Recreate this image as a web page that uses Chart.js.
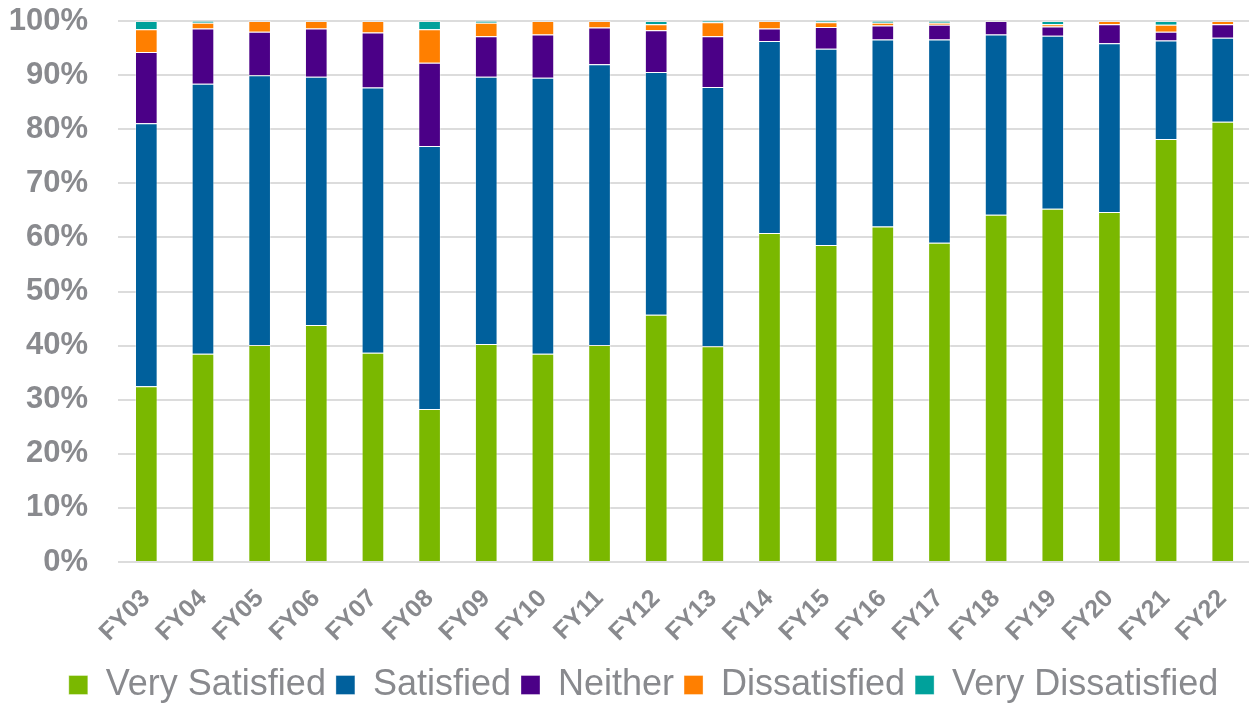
<!DOCTYPE html>
<html lang="en">
<head>
    <meta charset="UTF-8">
    <title>Satisfaction by year</title>
    <script src="https://cdn.jsdelivr.net/npm/chart.js"></script>
    <style>
        html, body {
            margin: 0;
            padding: 0;
            background: #ffffff;
            overflow: hidden;
        }
    </style>
</head>
<body>
    <canvas id="satChart" width="1258" height="710"></canvas>

    <script>
        // fiscal years on the x axis
        const years = ['FY03', 'FY04', 'FY05', 'FY06', 'FY07', 'FY08', 'FY09', 'FY10', 'FY11', 'FY12',
            'FY13', 'FY14', 'FY15', 'FY16', 'FY17', 'FY18', 'FY19', 'FY20', 'FY21', 'FY22'];

        // percentages per answer
        const verySatisfied = [32.5, 38.5, 40.1, 43.8, 38.7, 28.3, 40.3, 38.5, 40.1, 45.7,
            39.9, 60.8, 58.6, 62.0, 59.0, 64.2, 65.3, 64.7, 78.2, 81.4];
        const satisfied = [48.6, 49.9, 49.9, 45.9, 49.0, 48.6, 49.4, 51.0, 51.9, 44.9,
            47.9, 35.5, 36.3, 34.6, 37.6, 33.3, 32.0, 31.2, 18.2, 15.5];
        const neither = [13.2, 10.2, 8.0, 8.9, 10.2, 15.4, 7.5, 8.0, 6.8, 7.7,
            9.4, 2.3, 4.0, 2.6, 2.7, 2.5, 1.7, 3.5, 1.6, 2.5];
        const dissatisfied = [4.2, 1.1, 2.0, 1.4, 2.1, 6.2, 2.5, 2.5, 1.2, 1.1,
            2.6, 1.4, 0.9, 0.5, 0.4, 0.0, 0.4, 0.6, 1.3, 0.6];
        const veryDissatisfied = [1.5, 0.3, 0.0, 0.0, 0.0, 1.5, 0.3, 0.0, 0.0, 0.6,
            0.2, 0.0, 0.2, 0.3, 0.3, 0.0, 0.6, 0.0, 0.7, 0.0];

        const yTicks = [0, 10, 20, 30, 40, 50, 60, 70, 80, 90, 100];

        const grey = '#898a8e';
        const font = 'Liberation Sans, Arial, sans-serif';

        function series(label, data, color) {
            return {
                label: label,
                data: data,
                backgroundColor: color,
                borderColor: 'rgba(255,255,255,0.35)',
                borderWidth: 1,
                barPercentage: 0.4,
                categoryPercentage: 1.0
            };
        }

        // legend sits a little right of the canvas centre in the original
        const shiftLegend = {
            id: 'shiftLegend',
            afterLayout(chart) {
                chart.legend.left += 11;
                chart.legend.right += 11;
            }
        };

        const ctx = document.getElementById('satChart').getContext('2d');
        const satChart = new Chart(ctx, {
            type: 'bar',
            data: {
                labels: years,
                datasets: [
                    series('Very Satisfied', verySatisfied, '#7ab800'),
                    series('Satisfied', satisfied, '#00609c'),
                    series('Neither', neither, '#4b0087'),
                    series('Dissatisfied', dissatisfied, '#ff7f00'),
                    series('Very Dissatisfied', veryDissatisfied, '#00a19b')
                ]
            },
            plugins: [shiftLegend],
            options: {
                responsive: false,
                animation: false,
                layout: {
                    padding: { left: 9, top: 0, right: 2, bottom: -3 }
                },
                plugins: {
                    tooltip: { enabled: false },
                    legend: {
                        position: 'bottom',
                        labels: {
                            color: grey,
                            boxWidth: 19,
                            boxHeight: 19,
                            padding: 10,
                            font: { family: font, size: 36 }
                        }
                    }
                },
                scales: {
                    x: {
                        stacked: true,
                        grid: { display: false },
                        border: { display: false },
                        afterFit: axis => { axis.height = 95; },
                        ticks: {
                            color: grey,
                            maxRotation: 45,
                            minRotation: 45,
                            padding: 14,
                            font: { family: font, size: 25, weight: 'bold' }
                        }
                    },
                    y: {
                        stacked: true,
                        min: 0,
                        max: 100,
                        afterBuildTicks: axis => {
                            axis.ticks = yTicks.map(v => ({ value: v }));
                        },
                        afterFit: axis => { axis.width = 109; },
                        grid: {
                            color: '#dcdcdc',
                            lineWidth: 2,
                            drawTicks: true,
                            tickLength: 26,
                            tickColor: 'rgba(0,0,0,0)'
                        },
                        border: { display: false },
                        ticks: {
                            color: grey,
                            padding: 4,
                            callback: v => v + '%',
                            font: { family: font, size: 31, weight: 'bold', lineHeight: 1.1 }
                        }
                    }
                }
            }
        });
    </script>
</body>
</html>
